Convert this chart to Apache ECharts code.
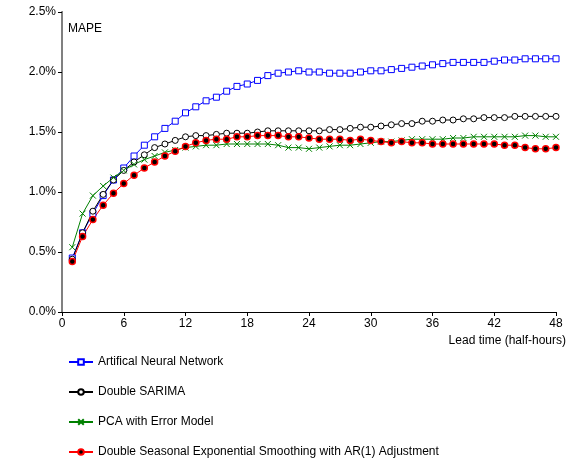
<!DOCTYPE html>
<html>
<head>
<meta charset="utf-8">
<script src="https://cdn.jsdelivr.net/npm/echarts@6/dist/echarts.min.js"></script>
<style>
  html, body { margin: 0; padding: 0; background: #fff; }
  #chart { width: 571px; height: 461px; }
</style>
</head>
<body>
<div id="chart"></div>
<script>
// lead times (half-hours)
const leadTimes = [1, 2, 3, 4, 5, 6, 7, 8, 9, 10, 11, 12, 13, 14, 15, 16, 17, 18, 19, 20, 21, 22, 23, 24,
  25, 26, 27, 28, 29, 30, 31, 32, 33, 34, 35, 36, 37, 38, 39, 40, 41, 42, 43, 44, 45, 46, 47, 48]

// MAPE values in %
const annValues = [0.45, 0.66, 0.82, 0.97, 1.10, 1.20, 1.30, 1.39, 1.46, 1.53, 1.59, 1.66, 1.71, 1.76, 1.79, 1.84,
  1.88, 1.90, 1.93, 1.97, 1.99, 2.00, 2.01, 2.00, 2.00, 1.99, 1.99, 1.99, 2.00, 2.01, 2.01, 2.02,
  2.03, 2.04, 2.05, 2.06, 2.07, 2.08, 2.08, 2.08, 2.08, 2.09, 2.10, 2.10, 2.11, 2.11, 2.11, 2.11]
const sarimaValues = [0.44, 0.66, 0.84, 0.98, 1.10, 1.18, 1.25, 1.31, 1.37, 1.40, 1.43, 1.46, 1.47, 1.47, 1.48, 1.49,
  1.49, 1.49, 1.50, 1.51, 1.51, 1.51, 1.51, 1.51, 1.51, 1.52, 1.52, 1.53, 1.54, 1.54, 1.55, 1.56,
  1.57, 1.57, 1.59, 1.59, 1.60, 1.60, 1.61, 1.61, 1.62, 1.62, 1.62, 1.63, 1.63, 1.63, 1.63, 1.63]
const pcaValues = [0.54, 0.82, 0.97, 1.05, 1.12, 1.18, 1.23, 1.27, 1.30, 1.33, 1.35, 1.37, 1.38, 1.39, 1.39, 1.40,
  1.40, 1.40, 1.40, 1.40, 1.39, 1.37, 1.37, 1.36, 1.37, 1.38, 1.39, 1.39, 1.40, 1.41, 1.42, 1.42,
  1.43, 1.44, 1.44, 1.44, 1.44, 1.45, 1.45, 1.46, 1.46, 1.46, 1.46, 1.46, 1.47, 1.47, 1.46, 1.46]
const dsesValues = [0.42, 0.63, 0.77, 0.89, 0.99, 1.07, 1.14, 1.20, 1.25, 1.30, 1.34, 1.38, 1.41, 1.43, 1.44, 1.44,
  1.46, 1.46, 1.47, 1.47, 1.47, 1.46, 1.46, 1.45, 1.44, 1.44, 1.44, 1.43, 1.44, 1.43, 1.42, 1.41,
  1.42, 1.41, 1.41, 1.40, 1.40, 1.40, 1.40, 1.40, 1.40, 1.40, 1.39, 1.39, 1.37, 1.36, 1.36, 1.37]

const seriesNames = [
  'Artifical Neural Network',
  'Double SARIMA',
  'PCA with Error Model',
  'Double Seasonal Exponential Smoothing with AR(1) Adjustment'
]

const font = '"Liberation Sans", Arial, sans-serif'
const pair = vals => vals.map((v, i) => [leadTimes[i], v])

const chart = echarts.init(document.getElementById('chart'))
chart.setOption({
  animation: false,
  textStyle: { fontFamily: font, color: '#000' },
  title: {
    text: 'MAPE',
    left: 63,
    top: 18,
    textStyle: { fontFamily: font, fontSize: 12, fontWeight: 'normal', color: '#000' }
  },
  grid: { left: 62, right: 15, top: 12, bottom: 149 },
  legend: {
    orient: 'vertical',
    left: 68,
    top: 355,
    height: 106,
    padding: 0,
    itemWidth: 24,
    itemHeight: 7,
    itemGap: 16,
    data: seriesNames,
    textStyle: { fontFamily: font, fontSize: 12, color: '#000', lineHeight: 14 }
  },
  xAxis: [
    {
      type: 'value',
      min: 0,
      max: 48,
      interval: 6,
      splitLine: { show: false },
      axisLine: { lineStyle: { color: '#000', width: 1 } },
      axisTick: { length: 4, lineStyle: { color: '#000' } },
      axisLabel: { fontSize: 12, color: '#000', margin: 6 },
      name: 'Lead time (half-hours)',
      nameLocation: 'end',
      nameGap: 10,
      nameTextStyle: {
        fontSize: 12, color: '#000', align: 'right', verticalAlign: 'top', padding: [23, 0, 0, 0]
      }
    },
    {
      type: 'value',
      position: 'top',
      min: 0,
      max: 48,
      axisLine: { show: true, lineStyle: { color: '#000', width: 1 } },
      axisTick: { show: false },
      axisLabel: { show: false },
      splitLine: { show: false }
    }
  ],
  yAxis: [
    {
      type: 'value',
      min: 0,
      max: 2.5,
      interval: 0.5,
      splitLine: { show: false },
      axisLine: { show: true, lineStyle: { color: '#000', width: 1 } },
      axisTick: { show: true, length: 4, lineStyle: { color: '#000' } },
      axisLabel: { fontSize: 12, color: '#000', margin: 6, formatter: v => v.toFixed(1) + '%' }
    },
    {
      type: 'value',
      position: 'right',
      min: 0,
      max: 2.5,
      axisLine: { show: true, lineStyle: { color: '#808080', width: 2 } },
      axisTick: { show: false },
      axisLabel: { show: false },
      splitLine: { show: false }
    }
  ],
  series: [
    {
      name: seriesNames[0],
      type: 'line',
      data: pair(annValues),
      symbol: 'rect',
      symbolSize: 6,
      color: '#0000ff',
      lineStyle: { color: '#0000ff', width: 1 },
      itemStyle: { color: '#fff', borderColor: '#0000ff', borderWidth: 1 }
    },
    {
      name: seriesNames[1],
      type: 'line',
      data: pair(sarimaValues),
      symbol: 'circle',
      symbolSize: 6,
      color: '#000',
      lineStyle: { color: '#000', width: 1 },
      itemStyle: { color: '#fff', borderColor: '#000', borderWidth: 1 }
    },
    {
      name: seriesNames[2],
      type: 'line',
      data: pair(pcaValues),
      symbol: 'path://M0,0L10,10M10,0L0,10',
      symbolSize: 6,
      color: '#008000',
      lineStyle: { color: '#008000', width: 1 },
      itemStyle: { color: '#008000', borderColor: '#008000', borderWidth: 1 }
    },
    {
      name: seriesNames[3],
      type: 'line',
      data: pair(dsesValues),
      symbol: 'circle',
      symbolSize: 6,
      color: '#ff0000',
      lineStyle: { color: '#ff0000', width: 1 },
      itemStyle: { color: '#000', borderColor: '#ff0000', borderWidth: 1.5 }
    }
  ]
})
</script>
</body>
</html>
